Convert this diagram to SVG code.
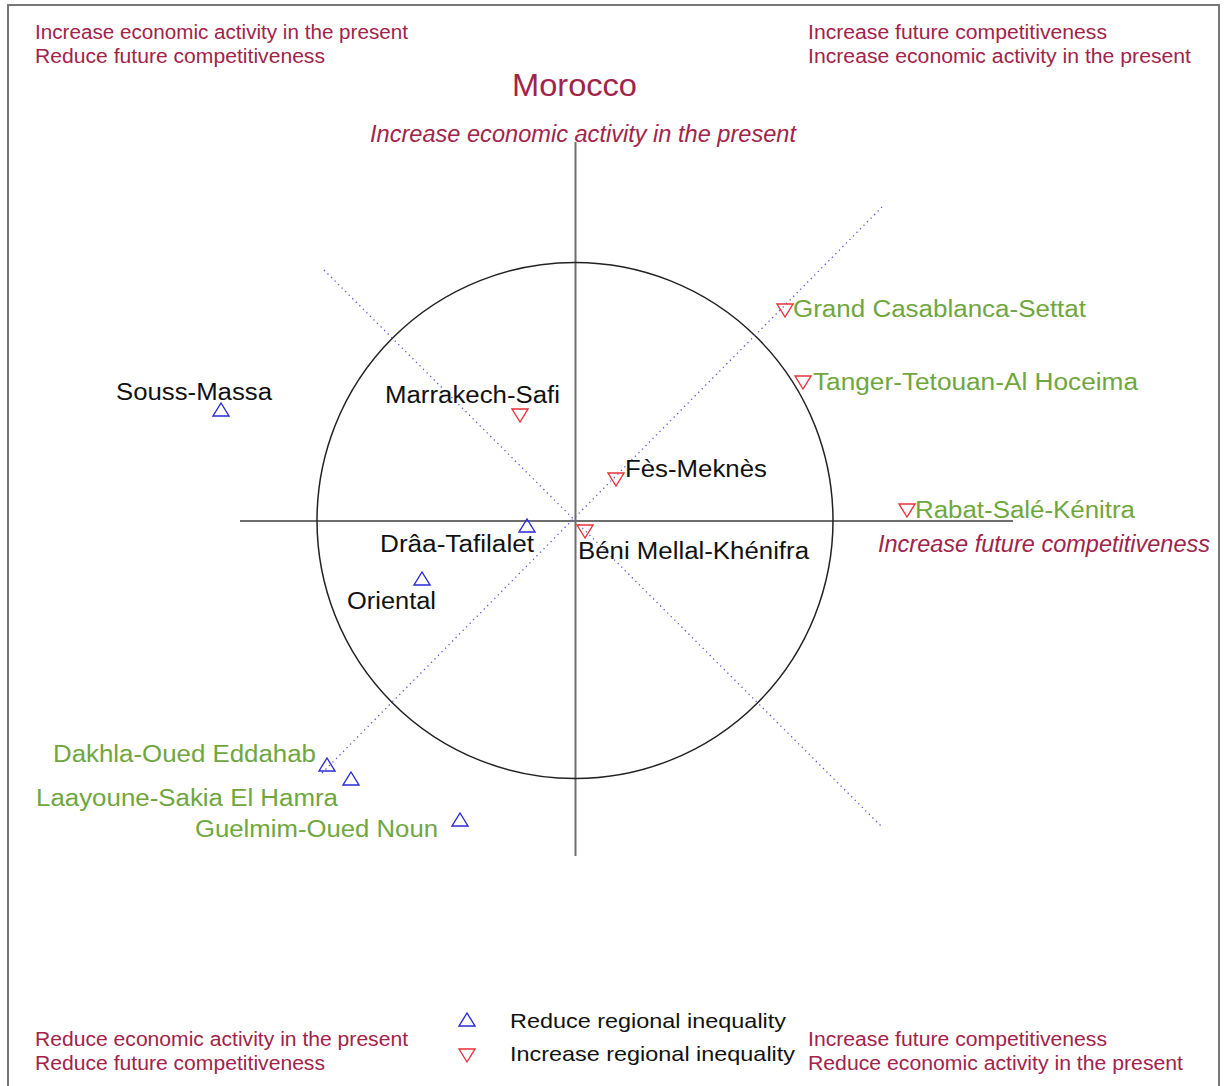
<svg xmlns="http://www.w3.org/2000/svg" xmlns:xlink="http://www.w3.org/1999/xlink" width="1226" height="1086" viewBox="0 0 1226 1086">
<style>
text { font-family: "Liberation Sans", Arial, sans-serif; }
.q { fill: #a1234a; font-size: 20px; }
.qi { fill: #a1234a; font-size: 23px; font-style: italic; }
.title { fill: #a1234a; font-size: 31px; }
.lb { fill: #111; font-size: 23px; }
.lg { fill: #6fa63e; font-size: 23px; }
.leg { fill: #111; font-size: 21px; }
.axis { stroke: #6e6e6e; stroke-width: 2; fill: none; }
.circ { stroke: #222; stroke-width: 1.5; fill: none; }
.dot { stroke: #5a5ad4; stroke-width: 1.3; stroke-dasharray: 1.3 3.7; fill: none; }
.up { fill: none; stroke: #2a2ad6; stroke-width: 1.4; }
.dn { fill: none; stroke: #e8313a; stroke-width: 1.4; }
</style>
<defs>
<path id="tu" class="up" d="M0,-7 L8,6 L-8,6 Z"/>
<path id="td" class="dn" d="M0,7 L-8,-6 L8,-6 Z"/>
</defs>
<rect x="0" y="0" width="1226" height="1086" fill="#fff"/>
<path d="M8,1090 L8,5 L1219,5 L1219,1090" fill="none" stroke="#777" stroke-width="2"/>

<g id="connectors">
<line class="axis" x1="575.5" y1="142" x2="575.5" y2="856"/>
<line class="axis" x1="240" y1="521" x2="1013" y2="521"/>
<circle class="circ" cx="575" cy="520.5" r="258"/>
<line class="dot" x1="324" y1="270" x2="883" y2="828"/>
<line class="dot" x1="322" y1="773" x2="882" y2="207"/>
</g>

<g id="quadrant-labels">
<text class="q" x="35" y="39" textLength="373" lengthAdjust="spacingAndGlyphs">Increase economic activity in the present</text>
<text class="q" x="35" y="63" textLength="290" lengthAdjust="spacingAndGlyphs">Reduce future competitiveness</text>
<text class="q" x="808" y="39" textLength="299" lengthAdjust="spacingAndGlyphs">Increase future competitiveness</text>
<text class="q" x="808" y="63" textLength="383" lengthAdjust="spacingAndGlyphs">Increase economic activity in the present</text>
<text class="q" x="35" y="1046" textLength="373" lengthAdjust="spacingAndGlyphs">Reduce economic activity in the present</text>
<text class="q" x="35" y="1070" textLength="290" lengthAdjust="spacingAndGlyphs">Reduce future competitiveness</text>
<text class="q" x="808" y="1046" textLength="299" lengthAdjust="spacingAndGlyphs">Increase future competitiveness</text>
<text class="q" x="808" y="1070" textLength="375" lengthAdjust="spacingAndGlyphs">Reduce economic activity in the present</text>
</g>

<g id="title">
<text class="title" x="512" y="96" textLength="125" lengthAdjust="spacingAndGlyphs">Morocco</text>
</g>
<g id="axis-labels">
<text class="qi" x="370" y="142" textLength="426" lengthAdjust="spacingAndGlyphs">Increase economic activity in the present</text>
<text class="qi" x="878" y="552" textLength="332" lengthAdjust="spacingAndGlyphs">Increase future competitiveness</text>
</g>

<g id="souss-massa"><use xlink:href="#tu" x="221" y="410"/><text class="lb" x="116" y="400" textLength="156" lengthAdjust="spacingAndGlyphs">Souss-Massa</text></g>
<g id="marrakech-safi"><use xlink:href="#td" x="520" y="415"/><text class="lb" x="385" y="403" textLength="175" lengthAdjust="spacingAndGlyphs">Marrakech-Safi</text></g>
<g id="fes-meknes"><use xlink:href="#td" x="616" y="479"/><text class="lb" x="625" y="477" textLength="142" lengthAdjust="spacingAndGlyphs">Fès-Meknès</text></g>
<g id="draa-tafilalet"><use xlink:href="#tu" x="527" y="526"/><text class="lb" x="380" y="552" textLength="154" lengthAdjust="spacingAndGlyphs">Drâa-Tafilalet</text></g>
<g id="beni-mellal-khenifra"><use xlink:href="#td" x="585" y="531"/><text class="lb" x="578" y="559" textLength="231" lengthAdjust="spacingAndGlyphs">Béni Mellal-Khénifra</text></g>
<g id="oriental"><use xlink:href="#tu" x="422" y="579"/><text class="lb" x="347" y="609" textLength="89" lengthAdjust="spacingAndGlyphs">Oriental</text></g>
<g id="grand-casablanca-settat"><use xlink:href="#td" x="785" y="310"/><text class="lg" x="793" y="317" textLength="293" lengthAdjust="spacingAndGlyphs">Grand Casablanca-Settat</text></g>
<g id="tanger-tetouan-al-hoceima"><use xlink:href="#td" x="803" y="382"/><text class="lg" x="813" y="390" textLength="325" lengthAdjust="spacingAndGlyphs">Tanger-Tetouan-Al Hoceima</text></g>
<g id="rabat-sale-kenitra"><use xlink:href="#td" x="907" y="510"/><text class="lg" x="915" y="518" textLength="220" lengthAdjust="spacingAndGlyphs">Rabat-Salé-Kénitra</text></g>
<g id="dakhla-oued-eddahab"><use xlink:href="#tu" x="327" y="765"/><text class="lg" x="53" y="762" textLength="263" lengthAdjust="spacingAndGlyphs">Dakhla-Oued Eddahab</text></g>
<g id="laayoune-sakia-el-hamra"><use xlink:href="#tu" x="351" y="779"/><text class="lg" x="36" y="806" textLength="302" lengthAdjust="spacingAndGlyphs">Laayoune-Sakia El Hamra</text></g>
<g id="guelmim-oued-noun"><use xlink:href="#tu" x="460" y="820"/><text class="lg" x="195" y="837" textLength="243" lengthAdjust="spacingAndGlyphs">Guelmim-Oued Noun</text></g>

<g id="legend">
<use xlink:href="#tu" x="467" y="1020"/>
<text class="leg" x="510" y="1028" textLength="276" lengthAdjust="spacingAndGlyphs">Reduce regional inequality</text>
<use xlink:href="#td" x="467" y="1055"/>
<text class="leg" x="510" y="1061" textLength="285" lengthAdjust="spacingAndGlyphs">Increase regional inequality</text>
</g>
</svg>
